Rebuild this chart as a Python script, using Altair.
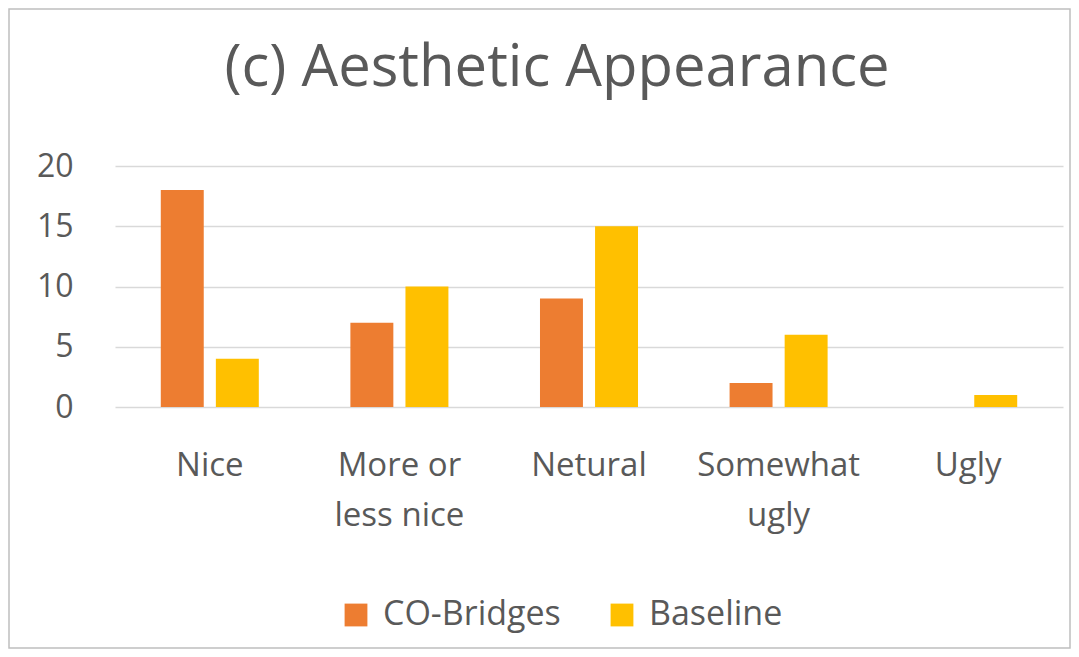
import altair as alt
import pandas as pd

categories = ["Nice", "More or less nice", "Netural", "Somewhat ugly", "Ugly"]
series = ["CO-Bridges", "Baseline"]
co_bridges = [18, 7, 9, 2, 0]
baseline = [4, 10, 15, 6, 1]
colors = ["#ED7D31", "#FFC000"]
y_ticks = [0, 5, 10, 15, 20]

rows = []
for c, a, b in zip(categories, co_bridges, baseline):
    rows.append({"category": c, "series": series[0], "value": a})
    rows.append({"category": c, "series": series[1], "value": b})
df = pd.DataFrame(rows)

FONT = "Open Sans"
TXT = "#595959"

label_expr = (
    "datum.label == 'More or less nice' ? ['More or', 'less nice'] : "
    "datum.label == 'Somewhat ugly' ? ['Somewhat', 'ugly'] : datum.label"
)

bars = alt.Chart(df).mark_bar().encode(
    x=alt.X(
        "category:N",
        sort=categories,
        scale=alt.Scale(paddingInner=0.483, paddingOuter=0.2415),
        axis=alt.Axis(
            title=None, labelAngle=0, ticks=False, domain=False, grid=False,
            labelExpr=label_expr, labelFontSize=33, labelColor=TXT, labelFont=FONT,
            labelPadding=42, labelLineHeight=50, labelBaseline="top", labelLimit=400,
        ),
    ),
    xOffset=alt.XOffset(
        "series:N", sort=series,
        scale=alt.Scale(paddingInner=0.22, paddingOuter=0),
    ),
    y=alt.Y(
        "value:Q",
        scale=alt.Scale(domain=[0, 20], nice=False),
        axis=alt.Axis(
            title=None, values=y_ticks, ticks=False, domain=False,
            gridColor="#D9D9D9", gridWidth=1.5, labelFontSize=32, labelColor=TXT,
            labelFont=FONT, labelPadding=42,
        ),
    ),
    color=alt.Color(
        "series:N", sort=series,
        scale=alt.Scale(domain=series, range=colors),
        legend=alt.Legend(
            title=None, orient="none", direction="horizontal",
            legendX=224, legendY=432, symbolType="square", symbolSize=520,
            symbolStrokeWidth=0, labelFontSize=34, labelColor=TXT, labelFont=FONT,
            labelOffset=10, columnPadding=44, labelLimit=400,
        ),
    ),
)

frame = alt.Chart(pd.DataFrame({"a": [0]})).mark_rect(
    filled=False, stroke="#BFBFBF", strokeWidth=1.5, clip=False
).encode(
    x=alt.value(-106), x2=alt.value(955), y=alt.value(-157), y2=alt.value(482)
)

chart = alt.layer(frame, bars).properties(
    width=948,
    height=241,
    autosize=alt.AutoSizeParams(type="none"),
    padding={"left": 107, "top": 158, "right": 8, "bottom": 242},
    title=alt.TitleParams(
        "(c) Aesthetic Appearance", fontSize=58, font=FONT, color=TXT,
        fontWeight="normal", anchor="middle", dx=-32, baseline="alphabetic",
        offset=0, dy=136,
    ),
).configure_view(stroke=None)

chart.save("out.html", embed_options={"renderer": "svg", "actions": False})
